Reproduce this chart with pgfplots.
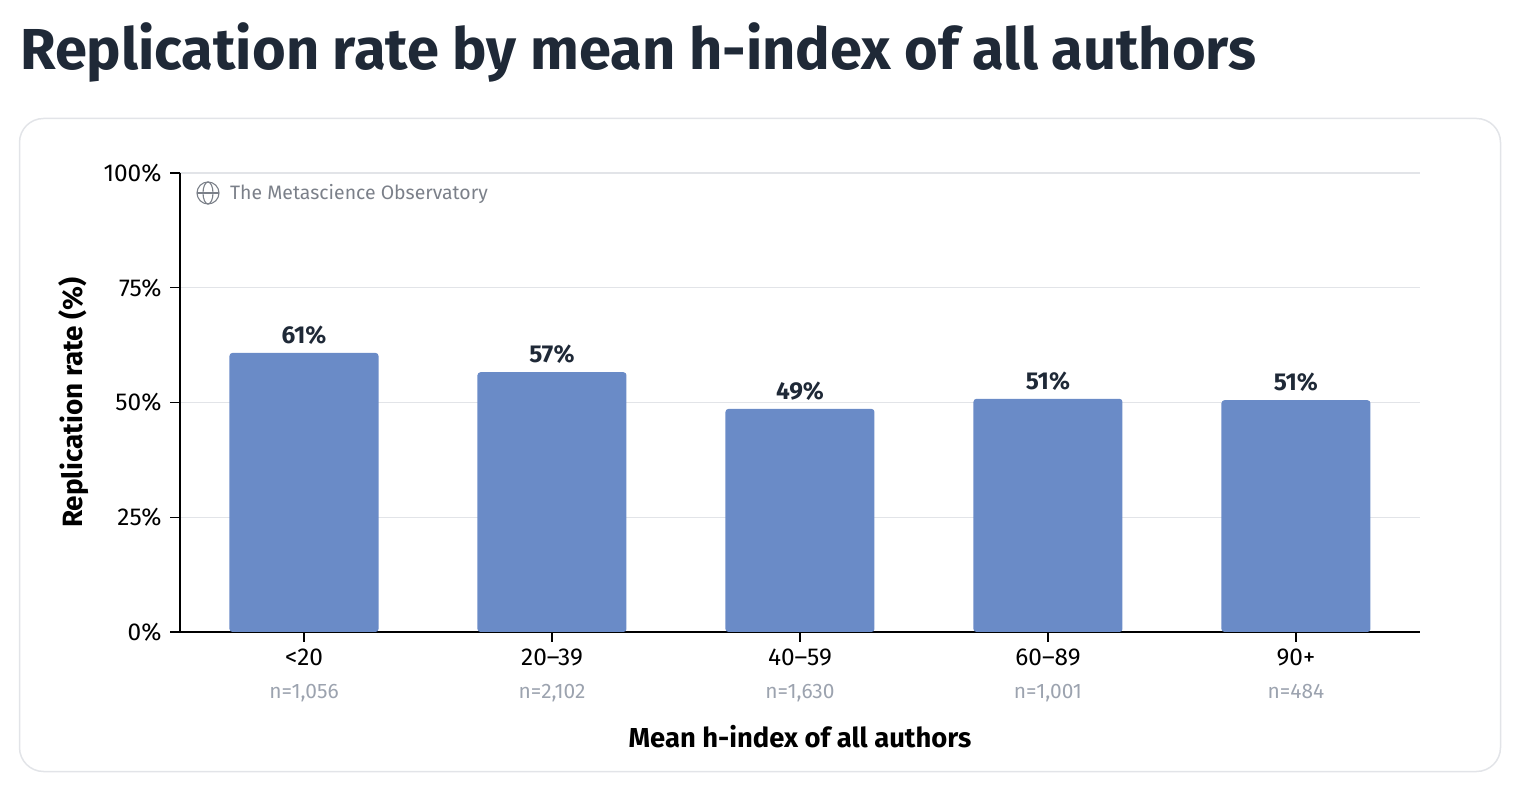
\documentclass[border=0pt]{standalone}
\usepackage{pgfplots}
\pgfplotsset{compat=1.18}
\usepackage{fontspec}
\setmainfont{Fira Sans}
\definecolor{barc}{HTML}{6A8BC7}
\definecolor{titc}{HTML}{1F2937}
\definecolor{gridc}{HTML}{E2E4E8}
\definecolor{nc}{HTML}{9CA3AF}
\definecolor{wm}{HTML}{7B8089}
\begin{document}
\begin{tikzpicture}
\begin{scope}[x=1bp,y=1bp]
\path[use as bounding box] (0,0) rectangle (1522,788);
\node[anchor=base west,inner sep=0,text=titc] at (20,718) {\fontsize{58}{66}\selectfont\bfseries Replication rate by mean h-index of all authors};
\draw[gridc,line width=1.5bp,rounded corners=24bp] (19.5,16.5) rectangle (1500.5,669.5);
\end{scope}
\begin{axis}[
  at={(180bp,156bp)}, anchor=south west,
  scale only axis, width=1240bp, height=459bp,
  xmin=-0.5, xmax=4.5, ymin=0, ymax=100,
  axis x line*=bottom, axis y line*=left,
  axis line style={black,line width=1.2bp},
  ytick={0,25,50,75,100},
  yticklabels={0\%,25\%,50\%,75\%,100\%},
  ymajorgrids, grid style={gridc,line width=1.2bp},
  xtick={0,1,2,3,4},
  xticklabels={{<20\\[6bp]{\fontsize{21}{24}\selectfont\color{nc}n=1,056}},
               {20–39\\[6bp]{\fontsize{21}{24}\selectfont\color{nc}n=2,102}},
               {40–59\\[6bp]{\fontsize{21}{24}\selectfont\color{nc}n=1,630}},
               {60–89\\[6bp]{\fontsize{21}{24}\selectfont\color{nc}n=1,001}},
               {90+\\[6bp]{\fontsize{21}{24}\selectfont\color{nc}n=484}}},
  xticklabel style={align=center,font=\fontsize{24.5}{28}\selectfont,anchor=north,yshift=-3bp},
  yticklabel style={font=\fontsize{24.5}{28}\selectfont,xshift=-5bp},
  tick style={black,line width=1.2bp},
  major tick length=10bp,
  tick align=outside,
  xtick pos=bottom, ytick pos=left,
  xlabel={Mean h-index of all authors},
  ylabel={Replication rate (\%)},
  xlabel style={font=\fontsize{27.5}{32}\selectfont\bfseries,yshift=-16bp},
  ylabel style={font=\fontsize{28}{32}\selectfont\bfseries,yshift=8bp},
  ybar, bar width=149bp,
  nodes near coords={\pgfmathprintnumber[fixed,precision=0,assume math mode=true]{\pgfplotspointmeta}\%},
  nodes near coords style={font=\fontsize{24.5}{28}\selectfont\bfseries,text=titc,anchor=south,yshift=5bp},
  clip=false,
]
\addplot[fill=barc,draw=none,rounded corners=3bp] coordinates {(0,60.8) (1,56.6) (2,48.6) (3,50.8) (4,50.5)};
\end{axis}
\begin{scope}[x=1bp,y=1bp]
\begin{scope}[wm,line width=1.1bp]
\draw (208,595) circle (11);
\draw (197,595) -- (219,595);
\draw (208,595) ellipse (5 and 11);
\end{scope}
\node[anchor=west,inner sep=0,text=wm] at (230,594) {\fontsize{19.5}{23}\selectfont The Metascience Observatory};
\end{scope}
\end{tikzpicture}
\end{document}
